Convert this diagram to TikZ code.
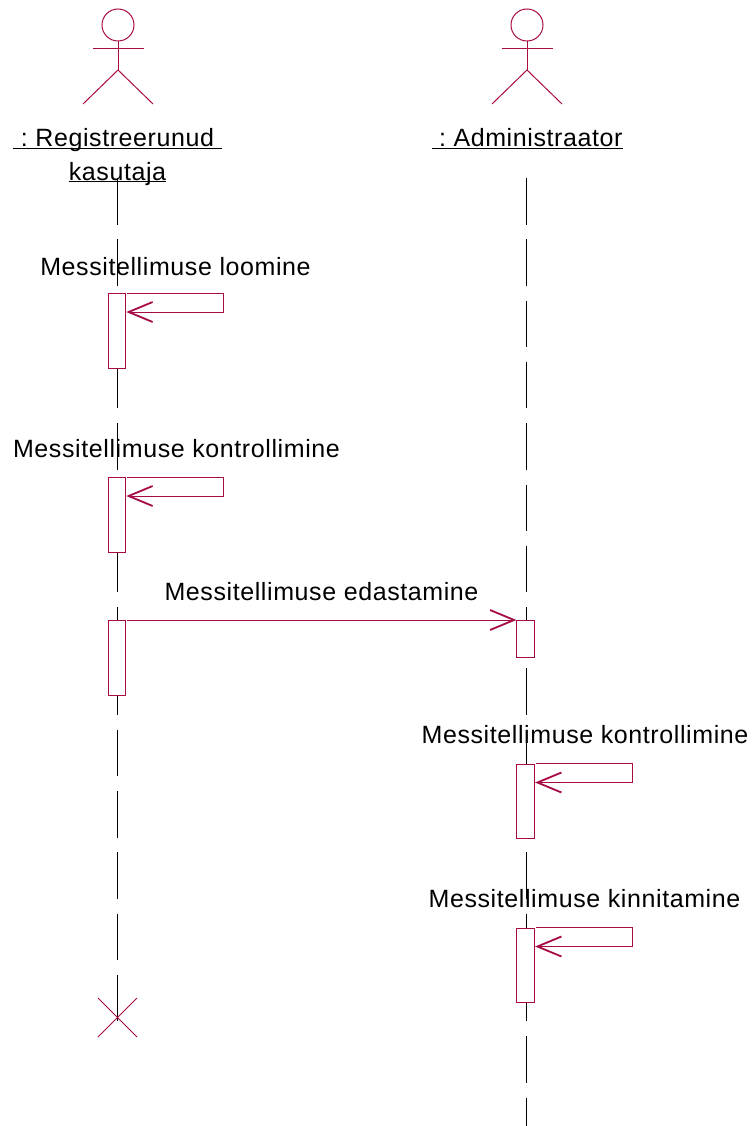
\documentclass[tikz,border=0pt]{standalone}
\usepackage{fontspec}
\setmainfont{Liberation Sans}[LetterSpace=2.4]
\usetikzlibrary{arrows.meta,shapes.misc}
\definecolor{umlred}{HTML}{A80A46}
\newcommand{\actorname}[1]{\underline{\smash{#1}}}
\begin{document}
\begin{tikzpicture}[x=1pt,y=-1pt,
>={Straight Barb[length=24pt,width=20pt,line width=1.8pt]},
head/.style={
% The shape:
circle,
draw=umlred,
line width=1pt,
minimum size=32pt,
inner sep=0pt
},
limb/.style={draw=umlred,line width=1pt},
lifeline/.style={draw=black,line width=1pt,dash pattern=on 46.5pt off 14.8pt},
bar/.style={
rectangle,
draw=umlred,
fill=white,
line width=1pt,
minimum width=17.2pt,
inner sep=0pt,
anchor=north
},
msg/.style={draw=umlred,line width=1pt,->},
self loop/.style={to path={-- ++(96pt,0) -- ++(0,-19pt) -- (\tikztotarget)}},
label/.style={font=\fontsize{25}{29}\selectfont,inner sep=0pt,anchor=base}
]
\useasboundingbox (0,0) rectangle (754,1126);
% actors
\foreach \name/\xpos in {reg/118,adm/527}{
\node (\name head) [head] at (\xpos,25) {};
\coordinate (\name hip) at (\xpos,70);
\draw [limb] (\name head.south) -- (\name hip);
\draw [limb] ([xshift=-25.5pt,yshift=-7.5pt]\name head.south) -- ++(51pt,0);
\draw [limb] ([xshift=-35pt,yshift=-34pt]\name hip) -- (\name hip) -- ([xshift=35pt,yshift=-34pt]\name hip);
}
% lifelines
\coordinate (regtop) at (117.5,178);
\coordinate (regend) at (117.5,1023);
\coordinate (admtop) at (526.5,178);
\coordinate (admend) at (526.5,1126);
\draw [lifeline] (regtop) -- (regend);
\draw [lifeline] (admtop) -- (admend);
% names
\node (regname) [label] at (117.5,147) {\actorname{\ :\ Registreerunud\ }};
\node (regname2) [label] at (117.5,180) {\actorname{kasutaja}};
\node (admname) [label] at (527,147) {\actorname{\ :\ Administraator}};
% message texts
\node (text1) [label] at (175.5,275) {Messitellimuse loomine};
\node (text2) [label] at (176.5,457) {Messitellimuse kontrollimine};
\node (text3) [label] at (321.5,600) {Messitellimuse edastamine};
\node (text4) [label] at (585,743) {Messitellimuse kontrollimine};
\node (text5) [label] at (584.5,907) {Messitellimuse kinnitamine};
% activations
\node (bar1) [bar,minimum height=75pt] at (116.7,293) {};
\node (bar2) [bar,minimum height=74.5pt] at (116.7,477) {};
\node (bar3) [bar,minimum height=75pt] at (116.7,620) {};
\node (bar4) [bar,minimum height=36.5pt] at (525.5,620) {};
\node (bar5) [bar,minimum height=74.5pt] at (525.5,763.5) {};
\node (bar6) [bar,minimum height=74.5pt] at (525.5,927.5) {};
% messages
\foreach \b in {bar1,bar2,bar5,bar6}{
\path ([xshift=1.5pt]\b.north east) edge[msg,self loop] ([xshift=0.5pt,yshift=-19pt]\b.north east);
}
\draw [msg] ([xshift=1.5pt]bar3.north east) -- (bar4.north west);
\node (destroy) [cross out,draw=umlred,line width=1pt,minimum size=38pt,inner sep=0pt] at (117.5,1017.5) {};
\end{tikzpicture}
\end{document}
